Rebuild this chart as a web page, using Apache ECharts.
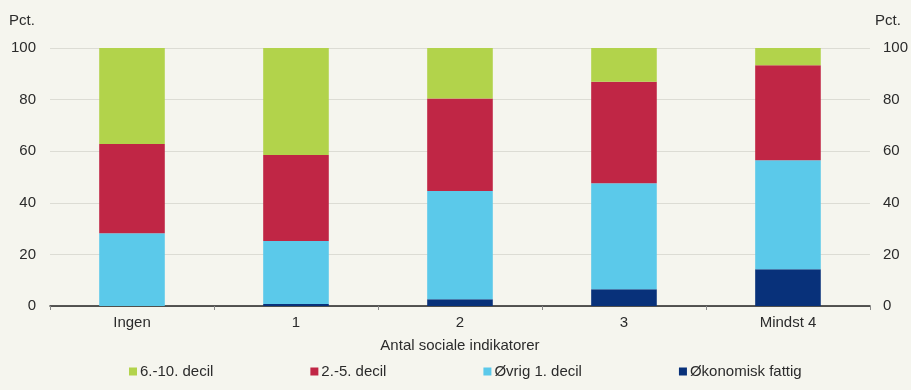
<!DOCTYPE html>
<html>
<head>
<meta charset="utf-8">
<script src="https://cdn.jsdelivr.net/npm/echarts@6/dist/echarts.min.js"></script>
<style>
html,body{margin:0;padding:0;background:#f5f5ee;}
#c{width:911px;height:390px;}
</style>
</head>
<body>
<div id="c"></div>
<script>
const categories = ['Ingen', '1', '2', '3', 'Mindst 4'];
const okonomiskFattig = [0, 0.8, 2.6, 6.5, 14.2];
const ovrig1Decil = [28.2, 24.4, 42.0, 41.1, 42.3];
const decil2til5 = [34.6, 33.3, 35.8, 39.3, 36.8];
const decil6til10 = [37.2, 41.5, 19.6, 13.1, 6.7];
const yTicks = [0, 20, 40, 60, 80, 100];

const FONT = '"Liberation Sans", Arial, sans-serif';
const TXT = '#2b2b2b';

const chart = echarts.init(document.getElementById('c'), null, {renderer: 'canvas'});

function bar(name, data, color) {
  return {
    name: name,
    type: 'bar',
    stack: 'tot',
    data: data,
    barWidth: '40%',
    itemStyle: {color: color},
    yAxisIndex: 0
  };
}

chart.setOption({
  backgroundColor: '#f5f5ee',
  animation: false,
  textStyle: {fontFamily: FONT},
  grid: {left: 50, right: 41, top: 48, bottom: 84, containLabel: false},
  legend: {
    left: 124,
    top: 359,
    itemWidth: 8,
    itemHeight: 8,
    itemGap: 97,
    icon: 'rect',
    textStyle: {fontSize: 15, color: TXT, fontFamily: FONT, padding: [0, 0, 0, -2]},
    data: ['6.-10. decil', '2.-5. decil', 'Øvrig 1. decil', 'Økonomisk fattig']
  },
  xAxis: {
    type: 'category',
    data: categories,
    name: 'Antal sociale indikatorer',
    nameLocation: 'middle',
    nameGap: 32,
    nameTextStyle: {fontSize: 15, color: TXT, fontFamily: FONT},
    axisLine: {lineStyle: {color: '#222222', width: 1.5}},
    axisTick: {show: true, length: 4, lineStyle: {color: '#888888'}},
    axisLabel: {fontSize: 15, color: TXT, margin: 9, fontFamily: FONT}
  },
  yAxis: [
    {
      type: 'value', min: 0, max: 100, interval: 20, position: 'left',
      axisLine: {show: false}, axisTick: {show: false},
      axisLabel: {fontSize: 15, color: TXT, margin: 14, fontFamily: FONT,
        formatter: v => yTicks.includes(v) ? String(v) : ''},
      splitLine: {lineStyle: {color: '#dcdcd4', width: 1}}
    },
    {
      type: 'value', min: 0, max: 100, interval: 20, position: 'right',
      axisLine: {show: false}, axisTick: {show: false},
      axisLabel: {fontSize: 15, color: TXT, margin: 13, fontFamily: FONT,
        formatter: v => yTicks.includes(v) ? String(v) : ''},
      splitLine: {show: false}
    }
  ],
  graphic: [
    {type: 'text', left: 9, top: 13, style: {text: 'Pct.', fontSize: 15, fill: TXT, fontFamily: FONT}},
    {type: 'text', left: 875, top: 13, style: {text: 'Pct.', fontSize: 15, fill: TXT, fontFamily: FONT}}
  ],
  series: [
    bar('Økonomisk fattig', okonomiskFattig, '#08317a'),
    bar('Øvrig 1. decil', ovrig1Decil, '#5bc9ea'),
    bar('2.-5. decil', decil2til5, '#c02645'),
    bar('6.-10. decil', decil6til10, '#b2d34b')
  ]
});
</script>
</body>
</html>
